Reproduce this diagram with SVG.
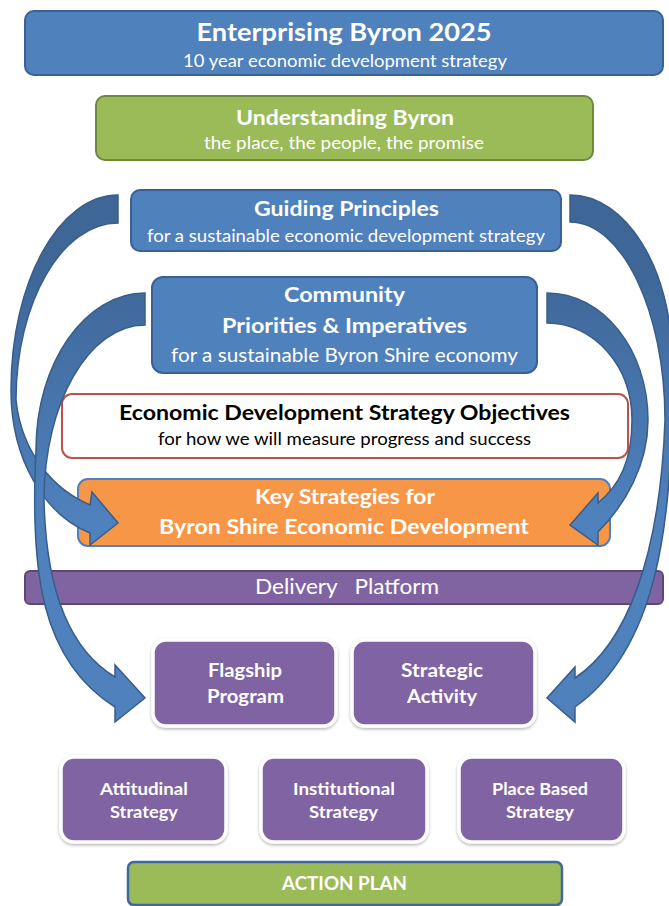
<svg xmlns="http://www.w3.org/2000/svg" width="669" height="906" viewBox="0 0 669 906">
<defs>
<style>
.t{font-family:Lato,"Open Sans","Liberation Sans",sans-serif;fill:#fff;text-anchor:middle}
.b{font-weight:bold}
.dk{fill:#000}
.blue{fill:#4f81bd;stroke:#3a6194;stroke-width:2}
.green{fill:#9bbb59;stroke:#71893f;stroke-width:2}
.obj{fill:#fff;stroke:#c0504d;stroke-width:2}
.orange{fill:#f79646;stroke:#4f81bd;stroke-width:2}
.plat{fill:#8064a2;stroke:#5c4776;stroke-width:2}
.purp{fill:#8064a2;stroke:#fff;stroke-width:3.5;filter:url(#sh)}
.action{fill:#9bbb59;stroke:#3f67a0;stroke-width:2.5}
.arrow{fill:url(#ag);stroke:#385d8a;stroke-width:1.5;stroke-linejoin:miter}
</style>
<linearGradient id="ag" gradientUnits="userSpaceOnUse" x1="0" y1="260" x2="0" y2="520">
<stop offset="0" stop-color="#3e6697"/>
<stop offset="1" stop-color="#4f81bd"/>
</linearGradient>
<filter id="sh" x="-10%" y="-10%" width="120%" height="130%">
<feDropShadow dx="0" dy="1.5" stdDeviation="1.5" flood-color="#000" flood-opacity="0.3"/>
</filter>
</defs>
<rect width="669" height="906" fill="#fff"/>

<g id="enterprising">
<rect class="blue" x="25" y="11" width="638" height="64" rx="9"/>
<text class="t b" x="344" y="41" font-size="25" textLength="295" lengthAdjust="spacingAndGlyphs">Enterprising Byron 2025</text>
<text class="t" x="345" y="67" font-size="17" textLength="324" lengthAdjust="spacingAndGlyphs">10 year economic development strategy</text>
</g>

<g id="understanding">
<rect class="green" x="96" y="96" width="497" height="64" rx="9"/>
<text class="t b" x="345" y="125" font-size="20.5" textLength="218" lengthAdjust="spacingAndGlyphs">Understanding Byron</text>
<text class="t" x="344" y="149" font-size="17" textLength="280" lengthAdjust="spacingAndGlyphs">the place, the people, the promise</text>
</g>

<g id="guiding">
<rect class="blue" x="131" y="190" width="430" height="61" rx="9"/>
<text class="t b" x="346.5" y="216" font-size="20.5" textLength="185" lengthAdjust="spacingAndGlyphs">Guiding Principles</text>
<text class="t" x="346" y="242" font-size="17" textLength="398" lengthAdjust="spacingAndGlyphs">for a sustainable economic development strategy</text>
</g>

<g id="community">
<rect class="blue" x="152" y="277" width="385" height="96" rx="11"/>
<text class="t b" x="344.5" y="302" font-size="20.5" textLength="121" lengthAdjust="spacingAndGlyphs">Community</text>
<text class="t b" x="344.5" y="333" font-size="20.5" textLength="245" lengthAdjust="spacingAndGlyphs">Priorities &amp; Imperatives</text>
<text class="t" x="344.5" y="362" font-size="18.5" textLength="347" lengthAdjust="spacingAndGlyphs">for a sustainable Byron Shire economy</text>
</g>

<g id="objectives">
<rect class="obj" x="62" y="394" width="566" height="64" rx="10"/>
<text class="t b dk" x="344.5" y="420" font-size="20.5" textLength="451" lengthAdjust="spacingAndGlyphs">Economic Development Strategy Objectives</text>
<text class="t dk" x="344.5" y="445" font-size="16.5" textLength="373" lengthAdjust="spacingAndGlyphs">for how we will measure progress and success</text>
</g>

<g id="key-strategies">
<rect class="orange" x="78" y="479" width="532" height="67" rx="10"/>
<text class="t b" x="345" y="504" font-size="20.5" textLength="180" lengthAdjust="spacingAndGlyphs">Key Strategies for</text>
<text class="t b" x="344" y="534" font-size="20.5" textLength="370" lengthAdjust="spacingAndGlyphs">Byron Shire Economic Development</text>
</g>

<g id="delivery-platform">
<rect class="plat" x="25" y="571" width="638" height="33" rx="5"/>
<text class="t" x="347" y="594" font-size="20.5" textLength="184" lengthAdjust="spacingAndGlyphs" xml:space="preserve">Delivery   Platform</text>
</g>

<g id="flagship">
<rect class="purp" x="153" y="640" width="183" height="86" rx="13"/>
<text class="t b" x="245" y="677" font-size="19.5" textLength="74" lengthAdjust="spacingAndGlyphs">Flagship</text>
<text class="t b" x="245.5" y="703" font-size="19.5" textLength="77" lengthAdjust="spacingAndGlyphs">Program</text>
</g>

<g id="strategic-activity">
<rect class="purp" x="352" y="640" width="183" height="86" rx="13"/>
<text class="t b" x="442" y="677" font-size="19.5" textLength="82" lengthAdjust="spacingAndGlyphs">Strategic</text>
<text class="t b" x="442" y="703" font-size="19.5" textLength="70" lengthAdjust="spacingAndGlyphs">Activity</text>
</g>

<g id="attitudinal">
<rect class="purp" x="61" y="757" width="165" height="85" rx="13"/>
<text class="t b" x="144" y="795" font-size="17" textLength="88" lengthAdjust="spacingAndGlyphs">Attitudinal</text>
<text class="t b" x="144" y="818" font-size="17" textLength="68" lengthAdjust="spacingAndGlyphs">Strategy</text>
</g>

<g id="institutional">
<rect class="purp" x="261" y="757" width="166" height="85" rx="13"/>
<text class="t b" x="344" y="795" font-size="17" textLength="102" lengthAdjust="spacingAndGlyphs">Institutional</text>
<text class="t b" x="343.5" y="818" font-size="17" textLength="69" lengthAdjust="spacingAndGlyphs">Strategy</text>
</g>

<g id="place-based">
<rect class="purp" x="459" y="757" width="165" height="85" rx="13"/>
<text class="t b" x="540" y="795" font-size="17" textLength="96" lengthAdjust="spacingAndGlyphs">Place Based</text>
<text class="t b" x="540" y="818" font-size="17" textLength="68" lengthAdjust="spacingAndGlyphs">Strategy</text>
</g>

<g id="action-plan">
<rect class="action" x="128" y="862" width="434" height="43" rx="6"/>
<text class="t b" x="344.5" y="890" font-size="18.5" textLength="125" lengthAdjust="spacingAndGlyphs">ACTION PLAN</text>
</g>

<g id="connectors">
<path class="arrow" d="M118,195 C59,195 11,282 11,390 C11,460 45,515 90,533 L90,545 L118,523 L92,492 L90,505 C55,490 22,455 16,400 C16,302 62,223 118,223 Z"/>
<path class="arrow" d="M145,293 C85,293 36,363 36,450 C30,570 40,660 115,707 L115,722 L145,698 L115,665 L115,677 C70,650 46,590 44,500 C44,403 89,325 145,325 Z"/>
<path class="arrow" d="M547,293 C603,293 648,350 648,420 C648,465 625,505 598,532 L598,545 L570,525 L598,493 L598,503 C620,485 632,460 632,420 C632,366 594,323 547,323 Z"/>
<path class="arrow" d="M570,195 C626,195 672,269 672,360 C675,530 655,650 575,707 L575,722 L547,698 L575,667 L575,678 C625,645 660,560 665,420 C665,311 622,222 570,222 Z"/>
</g>
</svg>
